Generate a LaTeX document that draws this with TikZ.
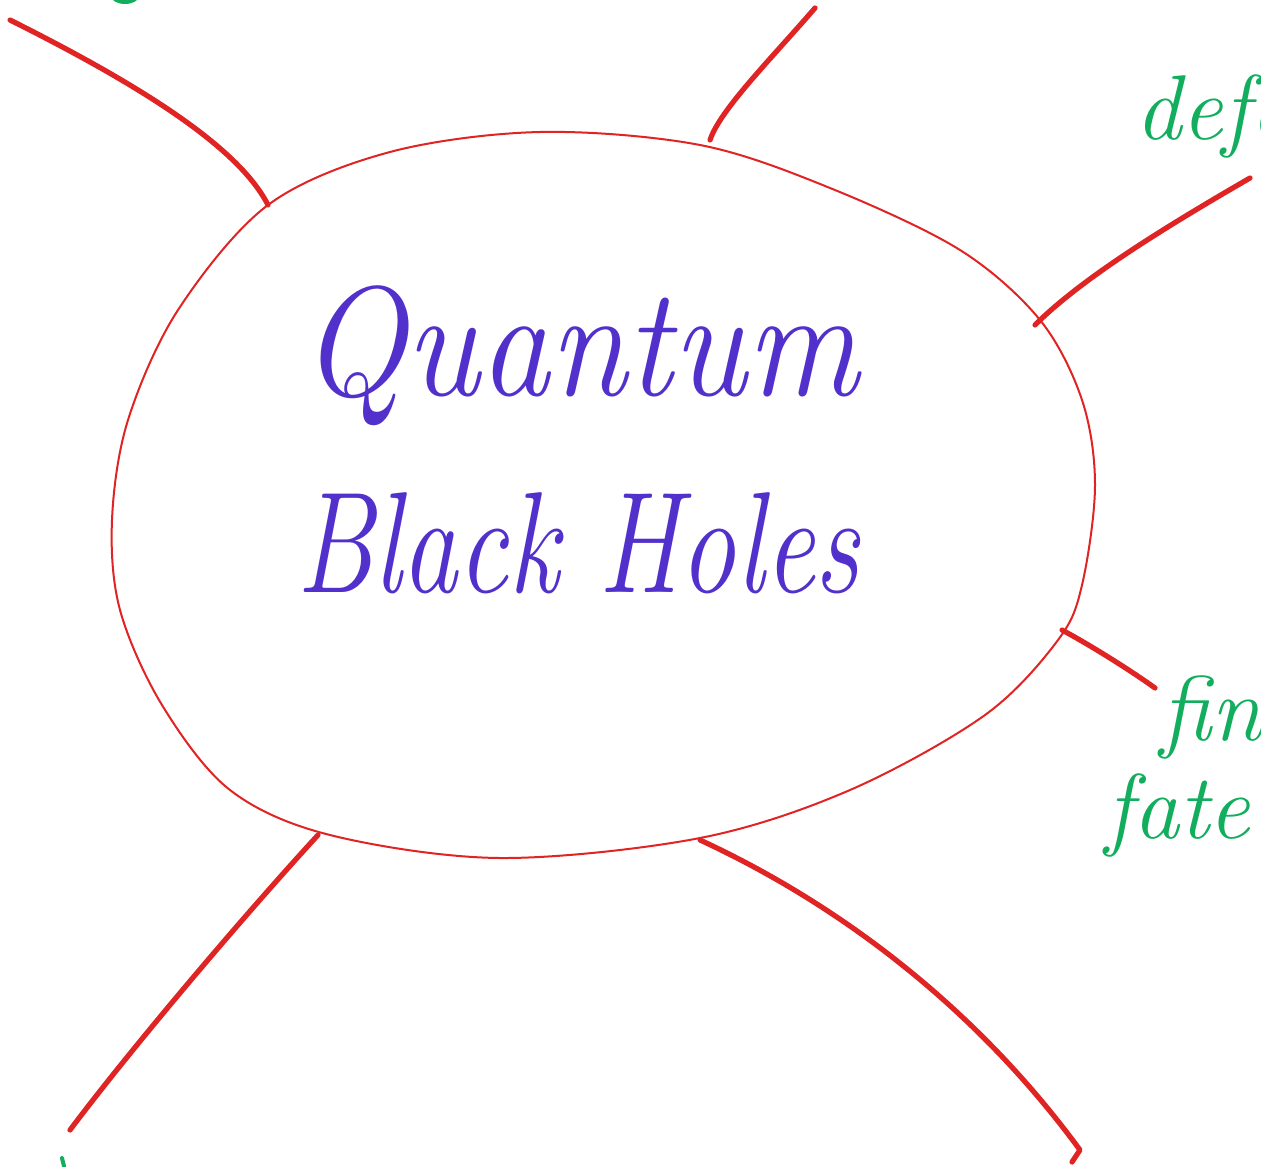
\documentclass[tikz,border=0pt]{standalone}
\usepackage{graphicx}
\definecolor{penred}{HTML}{E02424}
\definecolor{pengreen}{HTML}{12AE5E}
\definecolor{penblue}{HTML}{5230CC}
\tikzset{
  spoke/.style={penred, line width=2.6pt, line cap=round, line join=round},
  bubble/.style={penred, line width=1pt},
  greentext/.style={text=pengreen, font=\fontsize{46}{50}\selectfont\itshape, inner sep=0pt, anchor=base west},
  titletext/.style={text=penblue, inner sep=0pt, anchor=base west}
}
\begin{document}
\begin{tikzpicture}[x=0.5pt,y=-0.5pt]
\useasboundingbox (0,0) rectangle (1261,1166);
\fill[white] (0,0) rectangle (1261,1166);
\clip (0,0) rectangle (1261,1166);
% central bubble
\draw[bubble] plot[smooth cycle, tension=0.55] coordinates {
 (540,132) (700,145) (830,188) (960,250) (1040,320) (1082,400) (1095,485) (1082,585) (1058,640) (985,715) (850,790) (700,838) (500,858) (330,835) (230,790) (162,705) (120,610) (112,520) (128,420) (178,310) (268,205) (390,152)};
% spoke anchors
\coordinate (s1a) at (268,205); \coordinate (s1b) at (10,20);
\coordinate (s2a) at (710,140); \coordinate (s2b) at (815,8);
\coordinate (s3a) at (1035,325); \coordinate (s3b) at (1250,178);
\coordinate (s4a) at (1062,630); \coordinate (s4b) at (1155,688);
\coordinate (s5a) at (700,840); \coordinate (s5b) at (1080,1150);
\coordinate (s6a) at (318,835); \coordinate (s6b) at (70,1130);
\draw[spoke] (s1a) .. controls (240,150) and (150,90) .. (s1b);
\draw[spoke] (s2a) .. controls (720,110) and (770,60) .. (s2b);
\draw[spoke] (s3a) .. controls (1080,280) and (1160,230) .. (s3b);
\draw[spoke] (s4a) .. controls (1090,645) and (1130,670) .. (s4b);
\draw[spoke] (s5a) .. controls (830,900) and (970,1000) .. (s5b) -- (1072,1162);
\draw[spoke] (s6a) .. controls (240,920) and (130,1050) .. (s6b);
% title
\node[titletext, font=\fontsize{78}{80}\selectfont\itshape] (q) at (300,395) {\scalebox{0.9}[1]{Quantum}};
\node[titletext, font=\fontsize{72}{74}\selectfont\itshape] (bh) at (296,592) {\scalebox{0.78}[1]{Black Holes}};
% green labels (cut by the page edge)
\node[greentext] (defo) at (1135,140) {defo};
\node[greentext] (fin) at (1160,740) {fin};
\node[greentext] (fate) at (1105,838) {fate};
\fill[pengreen] (125,-4) ellipse (14 and 8);
\draw[pengreen, line width=2pt, line cap=round] (62,1158) -- (64,1166);
\end{tikzpicture}
\end{document}
